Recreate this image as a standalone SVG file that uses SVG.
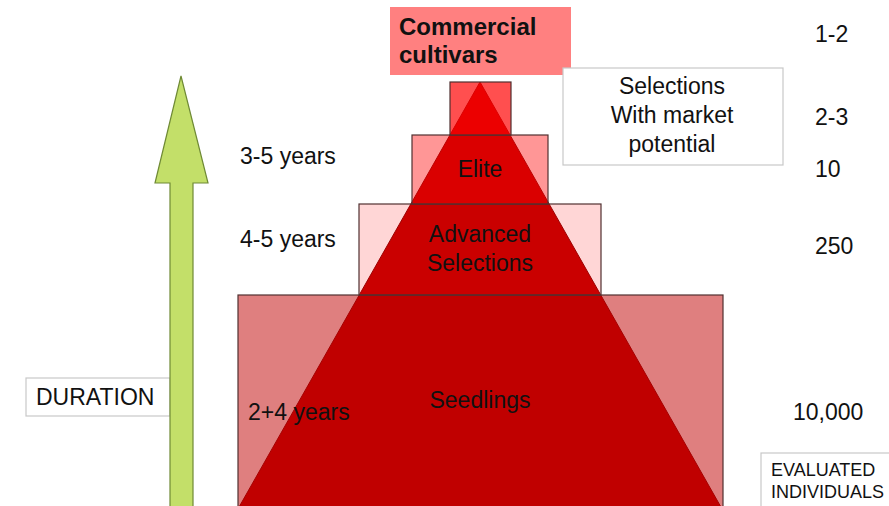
<svg xmlns="http://www.w3.org/2000/svg" width="889" height="506" viewBox="0 0 889 506">
<style>
text{font-family:"Liberation Sans",Arial,sans-serif;font-size:23px;fill:#111}
.c{text-anchor:middle}
.box{stroke:#503030;stroke-width:1.2}
.lbl{fill:#fff;stroke:#c8c8c8;stroke-width:1.2}
.sm{font-size:18px}
.b{font-weight:bold;font-size:24px}
</style>
<rect width="889" height="506" fill="#fff"/>
<g id="pyramid">
<polygon points="480,82 230,523 730,523" fill="#c00000" stroke="#8a0000" stroke-width="1"/>
</g>
<g id="seedlings">
<rect class="box" x="238" y="295" width="485" height="230" fill="#c00000" fill-opacity="0.5"/>
<text class="c" x="480" y="408">Seedlings</text>
</g>
<g id="advanced">
<rect class="box" x="359" y="204" width="242" height="91" fill="#ff0000" fill-opacity="0.16"/>
<text class="c" x="480" y="242">Advanced</text>
<text class="c" x="480" y="271">Selections</text>
</g>
<g id="elite">
<rect class="box" x="412" y="135" width="136" height="69" fill="#ff0000" fill-opacity="0.41"/>
<text class="c" x="480" y="177">Elite</text>
</g>
<g id="top">
<rect class="box" x="450" y="82" width="61" height="53" fill="#ff0000" fill-opacity="0.69"/>
</g>
<g id="commercial">
<rect x="390" y="7" width="181" height="68" fill="#ff8080"/>
<text class="b" x="399" y="35">Commercial</text>
<text class="b" x="399" y="63">cultivars</text>
</g>
<g id="selections">
<rect class="lbl" x="563" y="68" width="220" height="97"/>
<text class="c" x="672" y="94">Selections</text>
<text class="c" x="672" y="123">With market</text>
<text class="c" x="672" y="152">potential</text>
</g>
<g id="duration">
<rect class="lbl" x="26" y="378" width="144" height="38"/>
<text x="36" y="405">DURATION</text>
</g>
<g id="connectors">
<polygon points="181,76 208,183 193,183 193,520 170,520 170,183 155,183" fill="#c3df69" stroke="#6f8a35" stroke-width="1.2"/>
</g>
<g id="years">
<text x="240" y="164">3-5 years</text>
<text x="240" y="247">4-5 years</text>
<text x="248" y="420">2+4 years</text>
</g>
<g id="counts">
<text x="815" y="42">1-2</text>
<text x="815" y="125">2-3</text>
<text x="815" y="177">10</text>
<text x="815" y="254">250</text>
<text x="793" y="420">10,000</text>
</g>
<g id="evaluated">
<rect class="lbl" x="761" y="453" width="135" height="60"/>
<text class="sm" x="771" y="476">EVALUATED</text>
<text class="sm" x="771" y="498">INDIVIDUALS</text>
</g>
</svg>
